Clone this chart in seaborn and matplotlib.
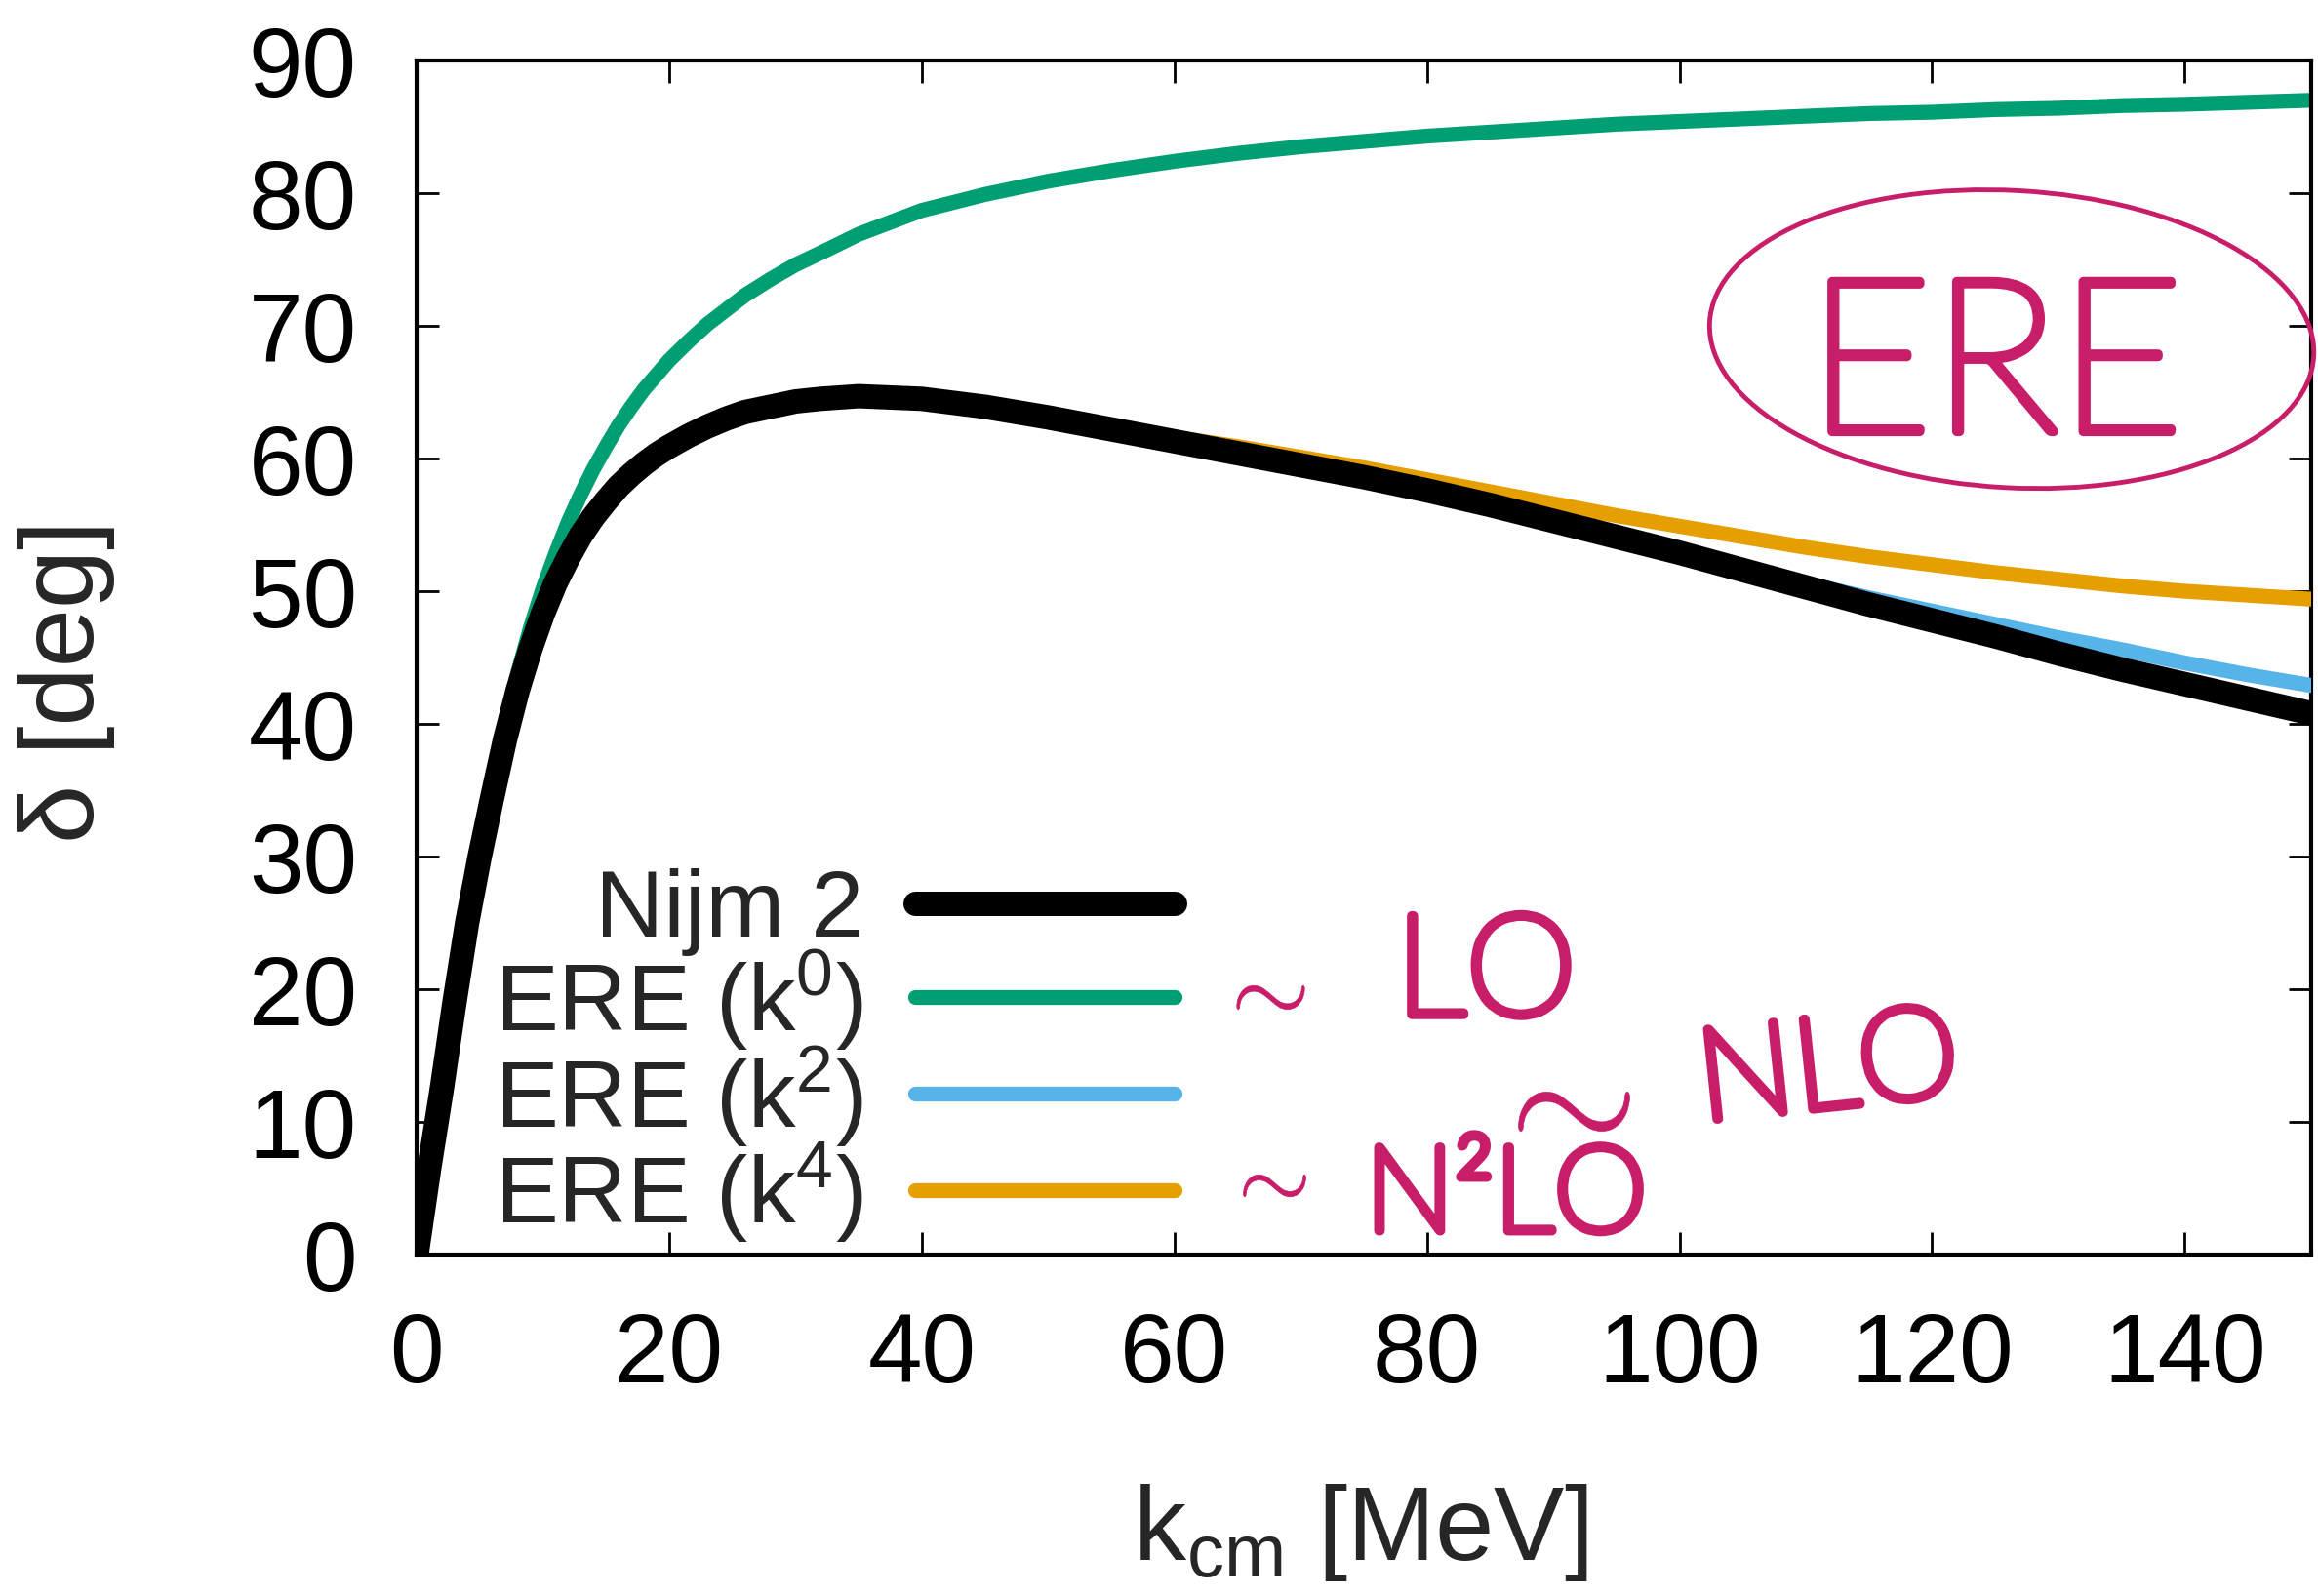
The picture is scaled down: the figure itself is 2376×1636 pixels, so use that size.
import matplotlib
matplotlib.use("Agg")
import matplotlib.pyplot as plt
import matplotlib.patheffects as pe
from matplotlib.patches import Ellipse
import pandas as pd
import seaborn as sns

# ====================== DATA ======================
k_cm = [0, 1, 2, 3, 4, 5, 6, 7, 8, 9, 10, 11, 12, 13, 14, 15, 16, 17, 18, 19, 20,
        21.5, 23, 24.5, 26, 28, 30, 32, 35, 40, 45, 50, 55, 60, 65, 70, 75, 80, 85,
        90, 95, 100, 105, 110, 115, 120, 125, 130, 135, 140, 145, 150]

delta_nijm = [0, 6.5, 12.5, 19.0, 25.0, 30.0, 34.5, 38.8, 42.5, 45.6, 48.3, 50.6,
              52.5, 54.2, 55.6, 56.8, 57.9, 58.8, 59.6, 60.3, 60.9, 61.7, 62.4, 63.0,
              63.5, 63.9, 64.3, 64.5, 64.7, 64.5, 63.9, 63.1, 62.2, 61.3, 60.4, 59.5,
              58.6, 57.6, 56.5, 55.3, 54.1, 52.9, 51.6, 50.3, 49.0, 47.8, 46.6, 45.3,
              44.1, 43.0, 41.9, 40.8]

delta_ere0 = [0, 7.0, 13.5, 19.8, 25.7, 31.0, 35.8, 40.0, 43.8, 47.2, 50.2, 52.8,
              55.2, 57.3, 59.2, 60.9, 62.5, 63.9, 65.2, 66.3, 67.4, 68.8, 70.1, 71.2,
              72.3, 73.5, 74.6, 75.5, 76.9, 78.7, 79.9, 80.9, 81.7, 82.4, 83.0, 83.5,
              83.9, 84.3, 84.6, 84.9, 85.2, 85.4, 85.6, 85.8, 86.0, 86.1, 86.3, 86.4,
              86.6, 86.7, 86.85, 87.0]

delta_ere2 = [0, 6.5, 12.5, 19.0, 25.0, 30.0, 34.5, 38.8, 42.5, 45.6, 48.3, 50.6,
              52.5, 54.2, 55.6, 56.8, 57.9, 58.8, 59.6, 60.3, 60.9, 61.7, 62.4, 63.0,
              63.5, 63.9, 64.3, 64.5, 64.7, 64.5, 63.9, 63.1, 62.2, 61.1, 60.2, 59.3,
              58.4, 57.4, 56.3, 55.1, 54.0, 52.8, 51.7, 50.6, 49.5, 48.5, 47.5, 46.5,
              45.6, 44.6, 43.7, 42.9]

delta_ere4 = [0, 6.5, 12.5, 19.0, 25.0, 30.0, 34.5, 38.8, 42.5, 45.6, 48.3, 50.6,
              52.5, 54.2, 55.6, 56.8, 57.9, 58.8, 59.6, 60.3, 60.9, 61.7, 62.4, 63.0,
              63.5, 63.9, 64.3, 64.5, 64.7, 64.5, 63.9, 63.1, 62.3, 61.6, 60.9, 60.1,
              59.3, 58.4, 57.5, 56.6, 55.7, 54.9, 54.1, 53.3, 52.6, 52.0, 51.4, 50.9,
              50.4, 50.0, 49.7, 49.4]

labels = ["Nijm 2", "ERE (k$^0$)", "ERE (k$^2$)", "ERE (k$^4$)"]
colors = ["#000000", "#009e73", "#56b4e9", "#e69f00"]

df = pd.DataFrame({
    "k": k_cm * 4,
    "delta": delta_nijm + delta_ere0 + delta_ere2 + delta_ere4,
    "model": sum([[lab] * len(k_cm) for lab in labels], []),
})

# ====================== STYLE =======================
sns.set_theme(style="ticks")
plt.rcParams["font.family"] = ["Liberation Sans", "DejaVu Sans"]
plt.rcParams["mathtext.fontset"] = "custom"
plt.rcParams["mathtext.rm"] = "Liberation Sans"
plt.rcParams["mathtext.it"] = "Liberation Sans:italic"

fig = plt.figure(figsize=(23.76, 16.36), dpi=100)
ax = fig.add_axes([0.1797, 0.2139, 0.8173, 0.7482])

# ====================== LINES =======================
# black drawn last so it sits on top, like the reference
draw_order = [(labels[1], 11, 2), (labels[2], 11, 3), (labels[3], 11, 4), (labels[0], 18, 5)]
for lab, lw, z in draw_order:
    sub = df[df["model"] == lab]
    sns.lineplot(data=sub, x="k", y="delta", color=colors[labels.index(lab)],
                 linewidth=lw, sort=False, estimator=None, ax=ax, label=lab,
                 zorder=z, solid_capstyle="round", solid_joinstyle="round")
handles = {l.get_label(): l for l in ax.get_lines()}

ax.set_xlim(0, 150)
ax.set_ylim(0, 90)
ax.set_xticks(range(0, 141, 20))
ax.set_yticks(range(0, 91, 10))
ax.tick_params(direction="in", length=16.5, width=2, top=True, right=True,
               labelsize=72, colors="black")
ax.tick_params(axis="y", pad=44)
ax.tick_params(axis="x", pad=42)
for sp in ax.spines.values():
    sp.set_linewidth(3)
    sp.set_color("black")

ax.set_xlabel(r"k$_{\mathrm{cm}}$ [MeV]", fontsize=78)
ax.set_ylabel("δ [deg]", fontsize=78)
ax.xaxis.set_label_coords(0.498, -0.19)
ax.yaxis.set_label_coords(-0.159, 0.48)

leg = ax.legend([handles[l] for l in labels], labels, loc="center right",
                bbox_to_anchor=(0.40, 0.166), frameon=False, fontsize=70,
                markerfirst=False, handlelength=2.73, handletextpad=0.55,
                labelspacing=-0.09, borderpad=0, borderaxespad=0)

# ====================== HANDWRITTEN NOTES =======================
pink = "#c81e69"
pen = [pe.withStroke(linewidth=7, foreground=pink, capstyle="round", joinstyle="round")]
hand = dict(color=pink, family=["Lato", "DejaVu Sans"], fontweight="light",
            clip_on=False, path_effects=pen, zorder=7)
ax.add_patch(Ellipse((126.3, 69.0), 47.9, 22.4, angle=-3, fill=False,
                     edgecolor=pink, linewidth=3.5, clip_on=False, zorder=6))
ax.text(125.0, 66.4, "ERE", fontsize=158, ha="center", va="center", **hand)
ax.text(77.5, 18.1, "LO", fontsize=104, ha="left", va="baseline", **hand)
ax.text(101.8, 10.1, "NLO", fontsize=95, ha="left", va="baseline", rotation=6,
        rotation_mode="anchor", **hand)
ax.text(75.1, 1.8, "N²LO", fontsize=88, ha="left", va="baseline", **hand)

# the three hand-drawn "~" squiggles
tilde_k = [67.6, 91.6, 67.9]
tilde_d = [19.4, 10.8, 5.2]
tilde_size = [50, 82, 46]
for tk, td, ts in zip(tilde_k, tilde_d, tilde_size):
    ax.plot([tk], [td], marker=r"$\sim$", markersize=ts, color=pink,
            markeredgewidth=0.5, clip_on=False, zorder=7)

fig.savefig("out.png", dpi=100, facecolor="white")
